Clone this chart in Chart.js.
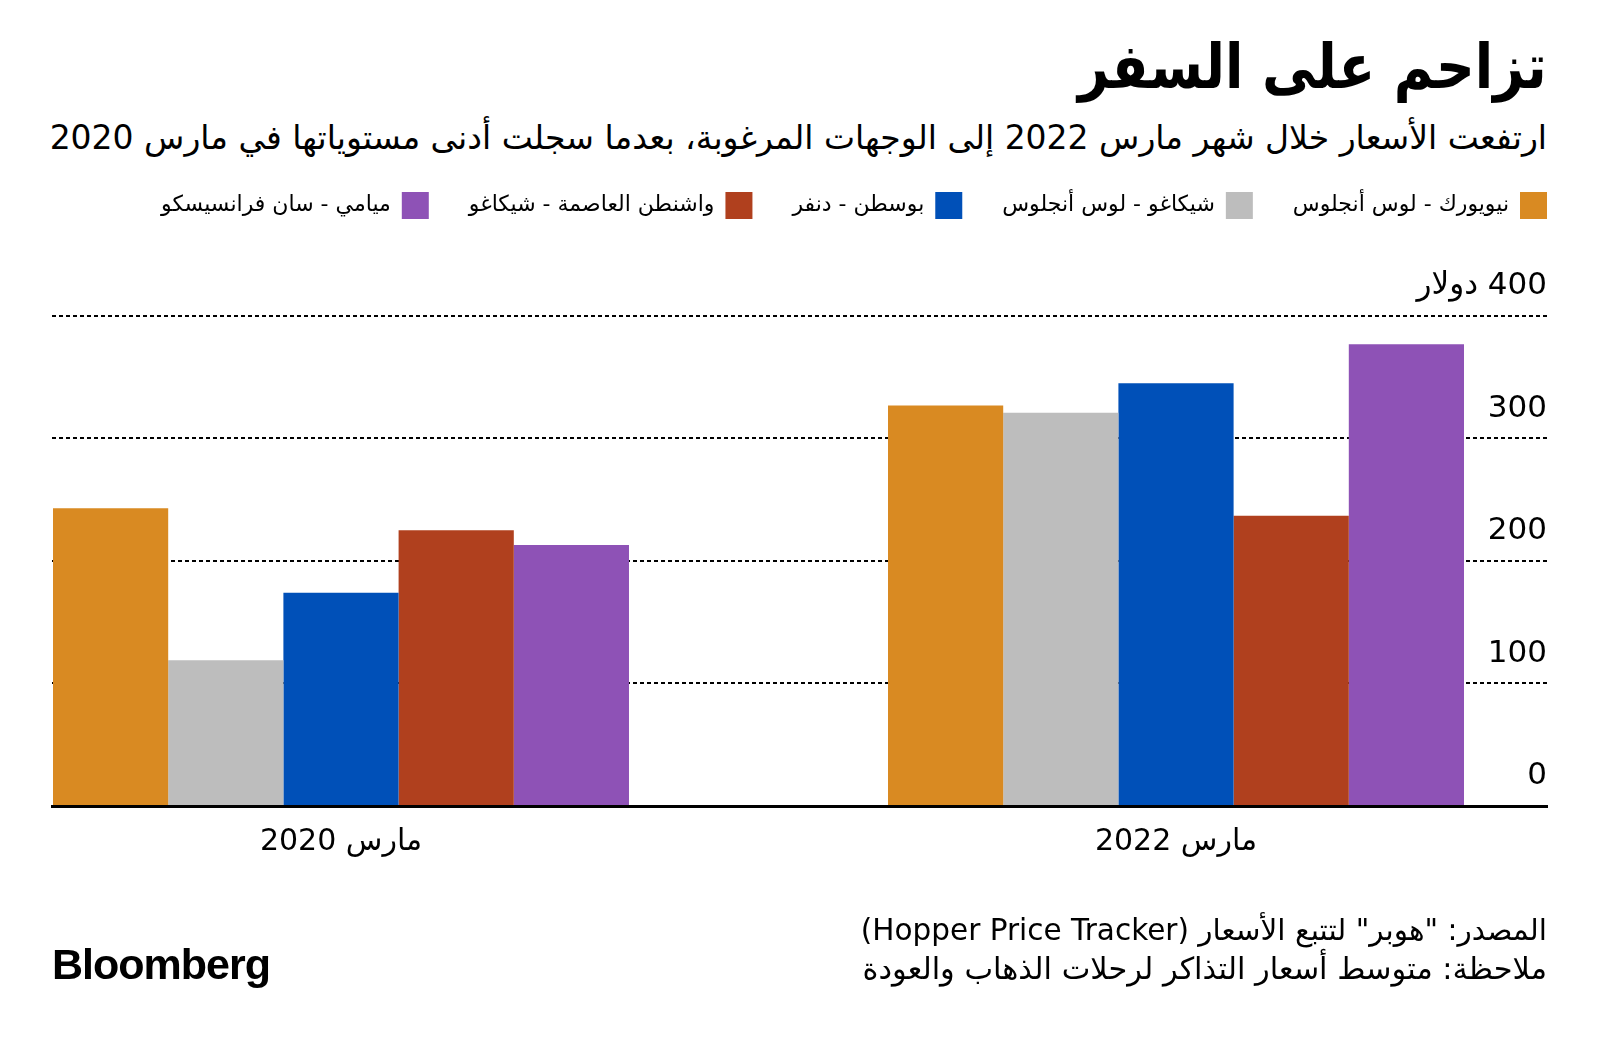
<!DOCTYPE html>
<html lang="ar" dir="rtl">
<head>
<meta charset="utf-8">
<script src="https://cdn.jsdelivr.net/npm/chart.js@4.4.1/dist/chart.umd.min.js"></script>
<style>
  html, body { margin: 0; padding: 0; background: #fff; }
  body { width: 1600px; height: 1045px; position: relative; overflow: hidden; font-family: "DejaVu Sans", sans-serif; color: #000; }
  #wrap { position: absolute; left: 0; top: 0; width: 1600px; height: 1045px; }
  .txt { position: absolute; right: 53px; white-space: nowrap; transform-origin: right center; }
  #title { top: 22px; font-size: 62px; font-weight: bold; line-height: 90px; transform: scaleX(0.867); }
  #subtitle { top: 116px; font-size: 33px; line-height: 44px; }
  #src { top: 909px; font-size: 29.5px; line-height: 42px; }
  #note { top: 948px; font-size: 30.4px; line-height: 42px; }
  #logo { position: absolute; left: 52px; top: 940px; font-family: "Liberation Sans", Arial, sans-serif; font-weight: bold; font-size: 43px; letter-spacing: -1px; direction: ltr; }
</style>
</head>
<body>
<div id="title" class="txt">تزاحم على السفر</div>
<div id="subtitle" class="txt">ارتفعت الأسعار خلال شهر مارس 2022 إلى الوجهات المرغوبة، بعدما سجلت أدنى مستوياتها في مارس 2020</div>
<div id="wrap"><canvas id="c" width="1600" height="1045" dir="rtl"></canvas></div>
<div id="src" class="txt">المصدر: "هوبر" لتتبع الأسعار (Hopper Price Tracker)</div>
<div id="note" class="txt">ملاحظة: متوسط أسعار التذاكر لرحلات الذهاب والعودة</div>
<div id="logo">Bloomberg</div>
<script>
// ---- data ----
const categories = ['مارس 2020', 'مارس 2022'];
const seriesNames = ['نيويورك - لوس أنجلوس', 'شيكاغو - لوس أنجلوس', 'بوسطن - دنفر', 'واشنطن العاصمة - شيكاغو', 'ميامي - سان فرانسيسكو'];
const newYorkLosAngeles = [243, 327];
const chicagoLosAngeles = [119, 321];
const bostonDenver = [174, 345];
const washingtonChicago = [225, 237];
const miamiSanFrancisco = [213, 377];
const yTickValues = [0, 100, 200, 300, 400];
const yTickLabels = ['0', '100', '200', '300', '400 دولار'];

// ---- styles ----
const seriesColors = ['#D98A22', '#BDBDBD', '#0050B8', '#B0401E', '#8E52B6'];
const seriesValues = [newYorkLosAngeles, chicagoLosAngeles, bostonDenver, washingtonChicago, miamiSanFrancisco];

const datasets = seriesValues.map((vals, s) => ({
  label: seriesNames[s],
  data: vals.map((v, i) => ({ x: i, y: v })),
  backgroundColor: seriesColors[s],
  borderWidth: 0,
  barPercentage: 1.0,
  categoryPercentage: 0.6898
}));

new Chart(document.getElementById('c'), {
  type: 'bar',
  data: { datasets },
  options: {
    responsive: false,
    animation: false,
    devicePixelRatio: 1,
    layout: { padding: { top: 152, left: 52, right: 13, bottom: 167 } },
    plugins: {
      legend: {
        position: 'top',
        align: 'start',
        rtl: true,
        textDirection: 'rtl',
        labels: {
          boxWidth: 27,
          boxHeight: 27,
          padding: 40,
          color: '#000',
          font: { family: 'DejaVu Sans', size: 22 }
        }
      },
      tooltip: { enabled: false }
    },
    scales: {
      x: {
        type: 'linear',
        offset: false,
        min: -0.3461,
        max: 1.4443,
        grid: { display: false, drawTicks: false },
        border: { display: true, color: '#000', width: 3 },
        afterBuildTicks: (axis) => { axis.ticks = categories.map((c, i) => ({ value: i })); },
        ticks: {
          padding: 18,
          color: '#000',
          font: { family: 'DejaVu Sans', size: 30 },
          callback: (v) => categories[v]
        }
      },
      y: {
        position: 'right',
        min: 0,
        max: 471,
        grid: { color: '#000', lineWidth: 2, drawTicks: false },
        border: { display: false, dash: [4, 3] },
        afterBuildTicks: (axis) => { axis.ticks = yTickValues.map(v => ({ value: v })); },
        afterFit: (axis) => { axis.width = 40; },
        ticks: {
          mirror: true,
          padding: 0,
          labelOffset: -30,
          color: '#000',
          font: { family: 'DejaVu Sans', size: 31 },
          callback: (v) => yTickLabels[yTickValues.indexOf(v)]
        }
      }
    }
  }
});
</script>
</body>
</html>
